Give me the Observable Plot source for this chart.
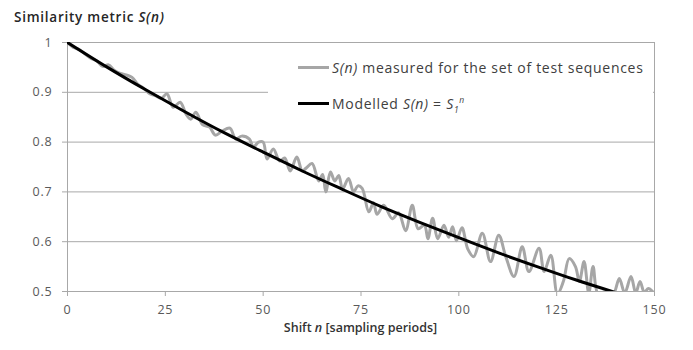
<!DOCTYPE html>
<html>
<head>
<meta charset="utf-8">
<script src="https://cdn.jsdelivr.net/npm/d3@7"></script>
<script src="https://cdn.jsdelivr.net/npm/@observablehq/plot@0.6"></script>
<style>
  body { margin: 0; background: white; }
  #wrap { position: relative; width: 693px; height: 350px; font-family: "Open Sans", sans-serif; }
  #title { position: absolute; left: 14px; top: 8px; font-size: 13.5px; font-weight: 600; color: #262626; white-space: nowrap; letter-spacing: 0.75px; }
  #xlabel { position: absolute; left: 0; width: 721px; text-align: center; top: 319px; font-size: 12.5px; font-weight: 600; color: #333; white-space: nowrap; }
  #legend { position: absolute; left: 268px; top: 44px; width: 385px; height: 78px; background: white; font-size: 14px; color: #404040; letter-spacing: 0.7px; }
  .row { position: absolute; left: 30px; height: 20px; display: flex; align-items: center; white-space: nowrap; }
  .swatch { display: inline-block; width: 31px; height: 3px; margin-right: 3px; }
  sub, sup { font-size: 8.5px; line-height: 0; }
  #chart svg text { letter-spacing: 0.8px; }
</style>
</head>
<body>
<div id="wrap">
  <div id="title">Similarity metric <i>S(n)</i></div>
  <div id="chart"></div>
  <div id="legend">
    <div class="row" style="top:13px"><span class="swatch" style="background:#a6a6a6"></span><span><i>S(n)</i> measured for the set of test sequences</span></div>
    <div class="row" style="top:49px"><span class="swatch" style="background:#000"></span><span>Modelled <i>S(n)</i> = <i>S</i><sub><i>1</i></sub><sup><i>n</i></sup></span></div>
  </div>
  <div id="xlabel">Shift <i>n</i> [sampling periods]</div>
</div>
<script>
// Measured similarity S(n) (grey curve)
const measuredN = [0, 1.5, 3, 4.5, 6, 7.5, 9, 10.5, 12, 13.5, 15, 16.5, 18, 19.5, 21, 22.5, 24, 25.4, 27, 28.8,
  30.3, 31.5, 32.8, 34.5, 36.3, 37.8, 39.5, 41.5, 43, 44.5, 46.5, 47.5, 48.8, 50, 51, 52.6, 54.2, 55.5, 56.9, 58.6,
  60, 61, 62.5, 64.2, 65.2, 66, 67.2, 68.3, 69.3, 70.3, 71.8, 73.1, 74.2, 75.3, 77, 78.2, 79.1, 80.8, 83, 84.6,
  86.4, 88.1, 89.6, 91.2, 92.1, 93.3, 94.6, 96.2, 97.4, 98.4, 99.4, 100.8, 102.3, 103.8, 106, 108.1, 110.2, 112, 114.1, 116.2,
  117.9, 120.5, 121.8, 123.5, 125.2, 126.7, 128.2, 129.8, 130.8, 132, 133.2, 134.3, 135.5, 137, 138.5, 139.6, 141, 142.4, 144, 145.2,
  146.3, 147.4, 148.4, 149.5];
const measuredS = [1.000, 0.990, 0.986, 0.977, 0.968, 0.963, 0.952, 0.955, 0.944, 0.938, 0.935, 0.930, 0.916, 0.908, 0.897, 0.893, 0.888, 0.897, 0.870, 0.880,
  0.856, 0.846, 0.860, 0.835, 0.830, 0.814, 0.822, 0.828, 0.806, 0.812, 0.806, 0.790, 0.800, 0.800, 0.766, 0.786, 0.762, 0.768, 0.742, 0.770,
  0.742, 0.748, 0.757, 0.722, 0.735, 0.700, 0.740, 0.722, 0.733, 0.706, 0.727, 0.700, 0.712, 0.707, 0.660, 0.678, 0.655, 0.673, 0.646, 0.658,
  0.622, 0.673, 0.626, 0.633, 0.606, 0.647, 0.606, 0.633, 0.609, 0.630, 0.602, 0.628, 0.585, 0.570, 0.617, 0.560, 0.613, 0.570, 0.530, 0.590,
  0.540, 0.587, 0.540, 0.573, 0.495, 0.520, 0.566, 0.550, 0.520, 0.560, 0.497, 0.550, 0.497, 0.499, 0.499, 0.497, 0.526, 0.497, 0.530, 0.497,
  0.520, 0.498, 0.506, 0.500];

// Modelled S(n) = S1^n (black curve)
const modelN = [0, 10, 20, 30, 40, 50, 60, 70, 80, 90, 100, 110, 120, 130, 140];
const modelS = [1.000, 0.951, 0.905, 0.861, 0.819, 0.780, 0.742, 0.706, 0.671, 0.639, 0.608, 0.578, 0.550, 0.523, 0.498];

const xTicks = [0, 25, 50, 75, 100, 125, 150];
const yTicks = [0.5, 0.6, 0.7, 0.8, 0.9, 1];

const measured = measuredN.map((n, i) => ({n, s: measuredS[i]}));
const model = modelN.map((n, i) => ({n, s: modelS[i]}));

const grid = "#a8a8a8";

const chart = Plot.plot({
  width: 693,
  height: 350,
  marginTop: 42,
  marginBottom: 59,
  marginLeft: 67,
  marginRight: 39,
  x: {domain: [0, 150]},
  y: {domain: [0.5, 1]},
  style: {fontFamily: "Open Sans, sans-serif", fontSize: "12.5px", color: "#595959", background: "white"},
  marks: [
    Plot.gridY(yTicks, {stroke: grid, strokeOpacity: 1}),
    Plot.ruleX([150], {stroke: grid}),
    Plot.ruleX([0], {stroke: grid}),
    Plot.ruleY([0.5], {stroke: grid}),
    Plot.axisY(yTicks, {tickSize: 5, tickPadding: 10, stroke: grid, tickFormat: d => String(d), label: null, fill: "#595959"}),
    Plot.axisX(xTicks, {tickSize: 5, tickPadding: 9, stroke: grid, tickFormat: d => String(d), label: null, fill: "#595959"}),
    Plot.line(measured, {x: "n", y: "s", stroke: "#a6a6a6", strokeWidth: 3, curve: "catmull-rom", clip: true}),
    Plot.line(model, {x: "n", y: "s", stroke: "#000", strokeWidth: 3, curve: "natural", clip: true})
  ]
});
document.getElementById("chart").appendChild(chart);
</script>
</body>
</html>
